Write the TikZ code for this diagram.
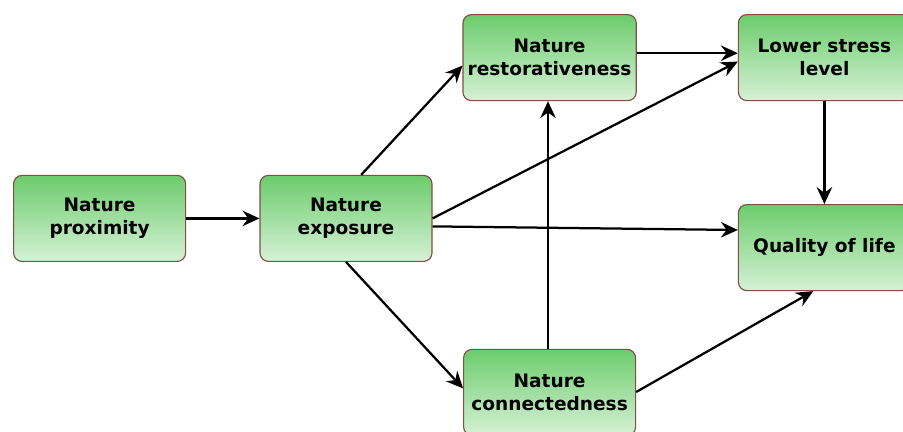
\documentclass[tikz,border=0pt]{standalone}
\usepackage{fontspec}
\setsansfont{DejaVu Sans}
\usetikzlibrary{arrows.meta, positioning}
\definecolor{natgreen}{RGB}{108,204,108}
\definecolor{natlight}{RGB}{214,241,214}
\definecolor{natbrown}{RGB}{128,78,68}
\tikzset{
  %% ---- boxes ----
  factor/.style = {rectangle, rounded corners=6pt,
                   draw=natbrown, line width=0.8pt,
                   top color=natgreen, bottom color=natlight,
                   minimum width=4.3cm, minimum height=2.15cm,
                   align=center, font=\sffamily\bfseries\fontsize{13.2}{16}\selectfont},
  %% ---- arrows ----
  link/.style   = {-{Stealth[length=12pt, width=11pt, inset=4pt]}, line width=1.6pt, color=black},
}
\begin{document}
\begin{tikzpicture}
\useasboundingbox (0,0) rectangle (22.575,10.8);
\node[factor] (prox)   at (2.49,5.34)   {Nature\\proximity};
\node[factor] (expo)   at (8.65,5.34)   {Nature\\exposure};
\node[factor] (resto)  at (13.74,9.36)  {Nature\\restorativeness};
\node[factor] (stress) at (20.61,9.36)  {Lower stress\\level};
\node[factor] (qol)    at (20.61,4.61)  {Quality of life};
\node[factor] (conn)   at (13.74,0.99)  {Nature\\connectedness};
\draw[link] (prox) -- (expo);
\draw[link] ([xshift=0.38cm]expo.north) -- ([yshift=-0.2cm]resto.west);
\draw[link] (expo.east) -- ([yshift=-0.1cm]stress.west);
\draw[link] ([yshift=0.11cm]resto.east) -- ([yshift=0.11cm]stress.west);
\draw[link] ([yshift=-0.2cm]expo.east) -- ([yshift=0.44cm]qol.west);
\draw[link] (expo.south) -- ([yshift=0.1cm]conn.west);
\draw[link] ([xshift=-0.04cm]conn.north) -- ([xshift=-0.04cm]resto.south);
\draw[link] (stress) -- (qol);
\draw[link] ([yshift=0.01cm]conn.east) -- ([xshift=-0.28cm]qol.south);
\end{tikzpicture}
\end{document}
